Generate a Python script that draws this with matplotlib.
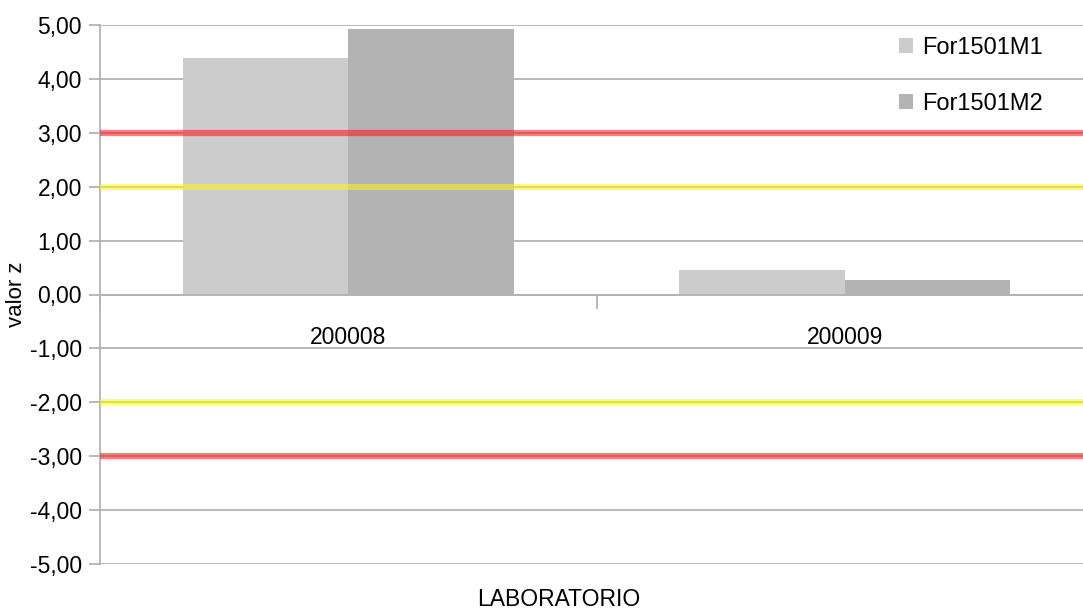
import matplotlib.pyplot as plt
import matplotlib.ticker as mticker
import numpy as np

plt.rcParams['font.family'] = ['Liberation Sans', 'DejaVu Sans']

laboratorios = ['200008', '200009']
series = ['For1501M1', 'For1501M2']
valores_m1 = [4.38, 0.45]
valores_m2 = [4.93, 0.26]
colores = ['#cccccc', '#b3b3b3']

limites_rojo = [3, -3]
limites_amarillo = [2, -2]

W, H = 1083, 610
fig = plt.figure(figsize=(W / 100, H / 100), dpi=100)
# la zona del grafico sigue un poco mas alla del borde derecho, como en el original
ax = fig.add_axes([100 / W, 1 - 564 / H, 993 / W, 539 / H])

x = np.arange(len(laboratorios))
ancho = 1 / 3
ax.bar(x - ancho / 2, valores_m1, ancho, color=colores[0], label=series[0], zorder=2)
ax.bar(x + ancho / 2, valores_m2, ancho, color=colores[1], label=series[1], zorder=2)

for v in limites_rojo:
    ax.axhline(v, color='#ff0000', alpha=0.5, linewidth=4.5, zorder=3)
for v in limites_amarillo:
    ax.axhline(v, color='#ffff00', alpha=0.5, linewidth=4.5, zorder=3)

ax.set_xlim(-0.5, 1.5)
ax.set_ylim(-5, 5)
ax.yaxis.set_major_locator(mticker.MultipleLocator(1))
ax.yaxis.set_major_formatter(mticker.FuncFormatter(lambda v, p: f'{v:.2f}'.replace('.', ',')))
ax.grid(axis='y', color='#b3b3b3', linewidth=1.3, zorder=0)
ax.set_axisbelow(True)

# eje x en el cero, marcas entre categorias
ax.spines['bottom'].set_position(('data', 0))
ax.spines['bottom'].set_color('#b3b3b3')
ax.spines['bottom'].set_linewidth(1.3)
ax.spines['left'].set_color('#b3b3b3')
ax.spines['left'].set_linewidth(1.3)
ax.spines['top'].set_visible(False)
ax.spines['right'].set_visible(False)

ax.set_xticks([-0.5, 0.5, 1.5])
ax.set_xticklabels([])
ax.set_xticks(x, minor=True)
ax.set_xticklabels(laboratorios, minor=True)
ax.tick_params(axis='x', which='major', length=10, width=1.3, color='#b3b3b3')
ax.tick_params(axis='x', which='minor', length=0, pad=23, labelsize=16.5)
ax.tick_params(axis='y', length=8, width=1.3, color='#b3b3b3', pad=5, labelsize=16.5)

ax.set_ylabel('valor z', fontsize=16, labelpad=2)
fig.text(559 / W, 1 - 600 / H, 'LABORATORIO', ha='center', va='center', fontsize=16.5)

ax.legend(loc='upper left', bbox_to_anchor=(899 / W, 1 - 37 / H), bbox_transform=fig.transFigure,
          frameon=False, fontsize=17, handlelength=0.6, handleheight=0.6,
          handletextpad=0.4, labelspacing=1.45, borderpad=0, borderaxespad=0)

fig.savefig('out.png', dpi=100)
